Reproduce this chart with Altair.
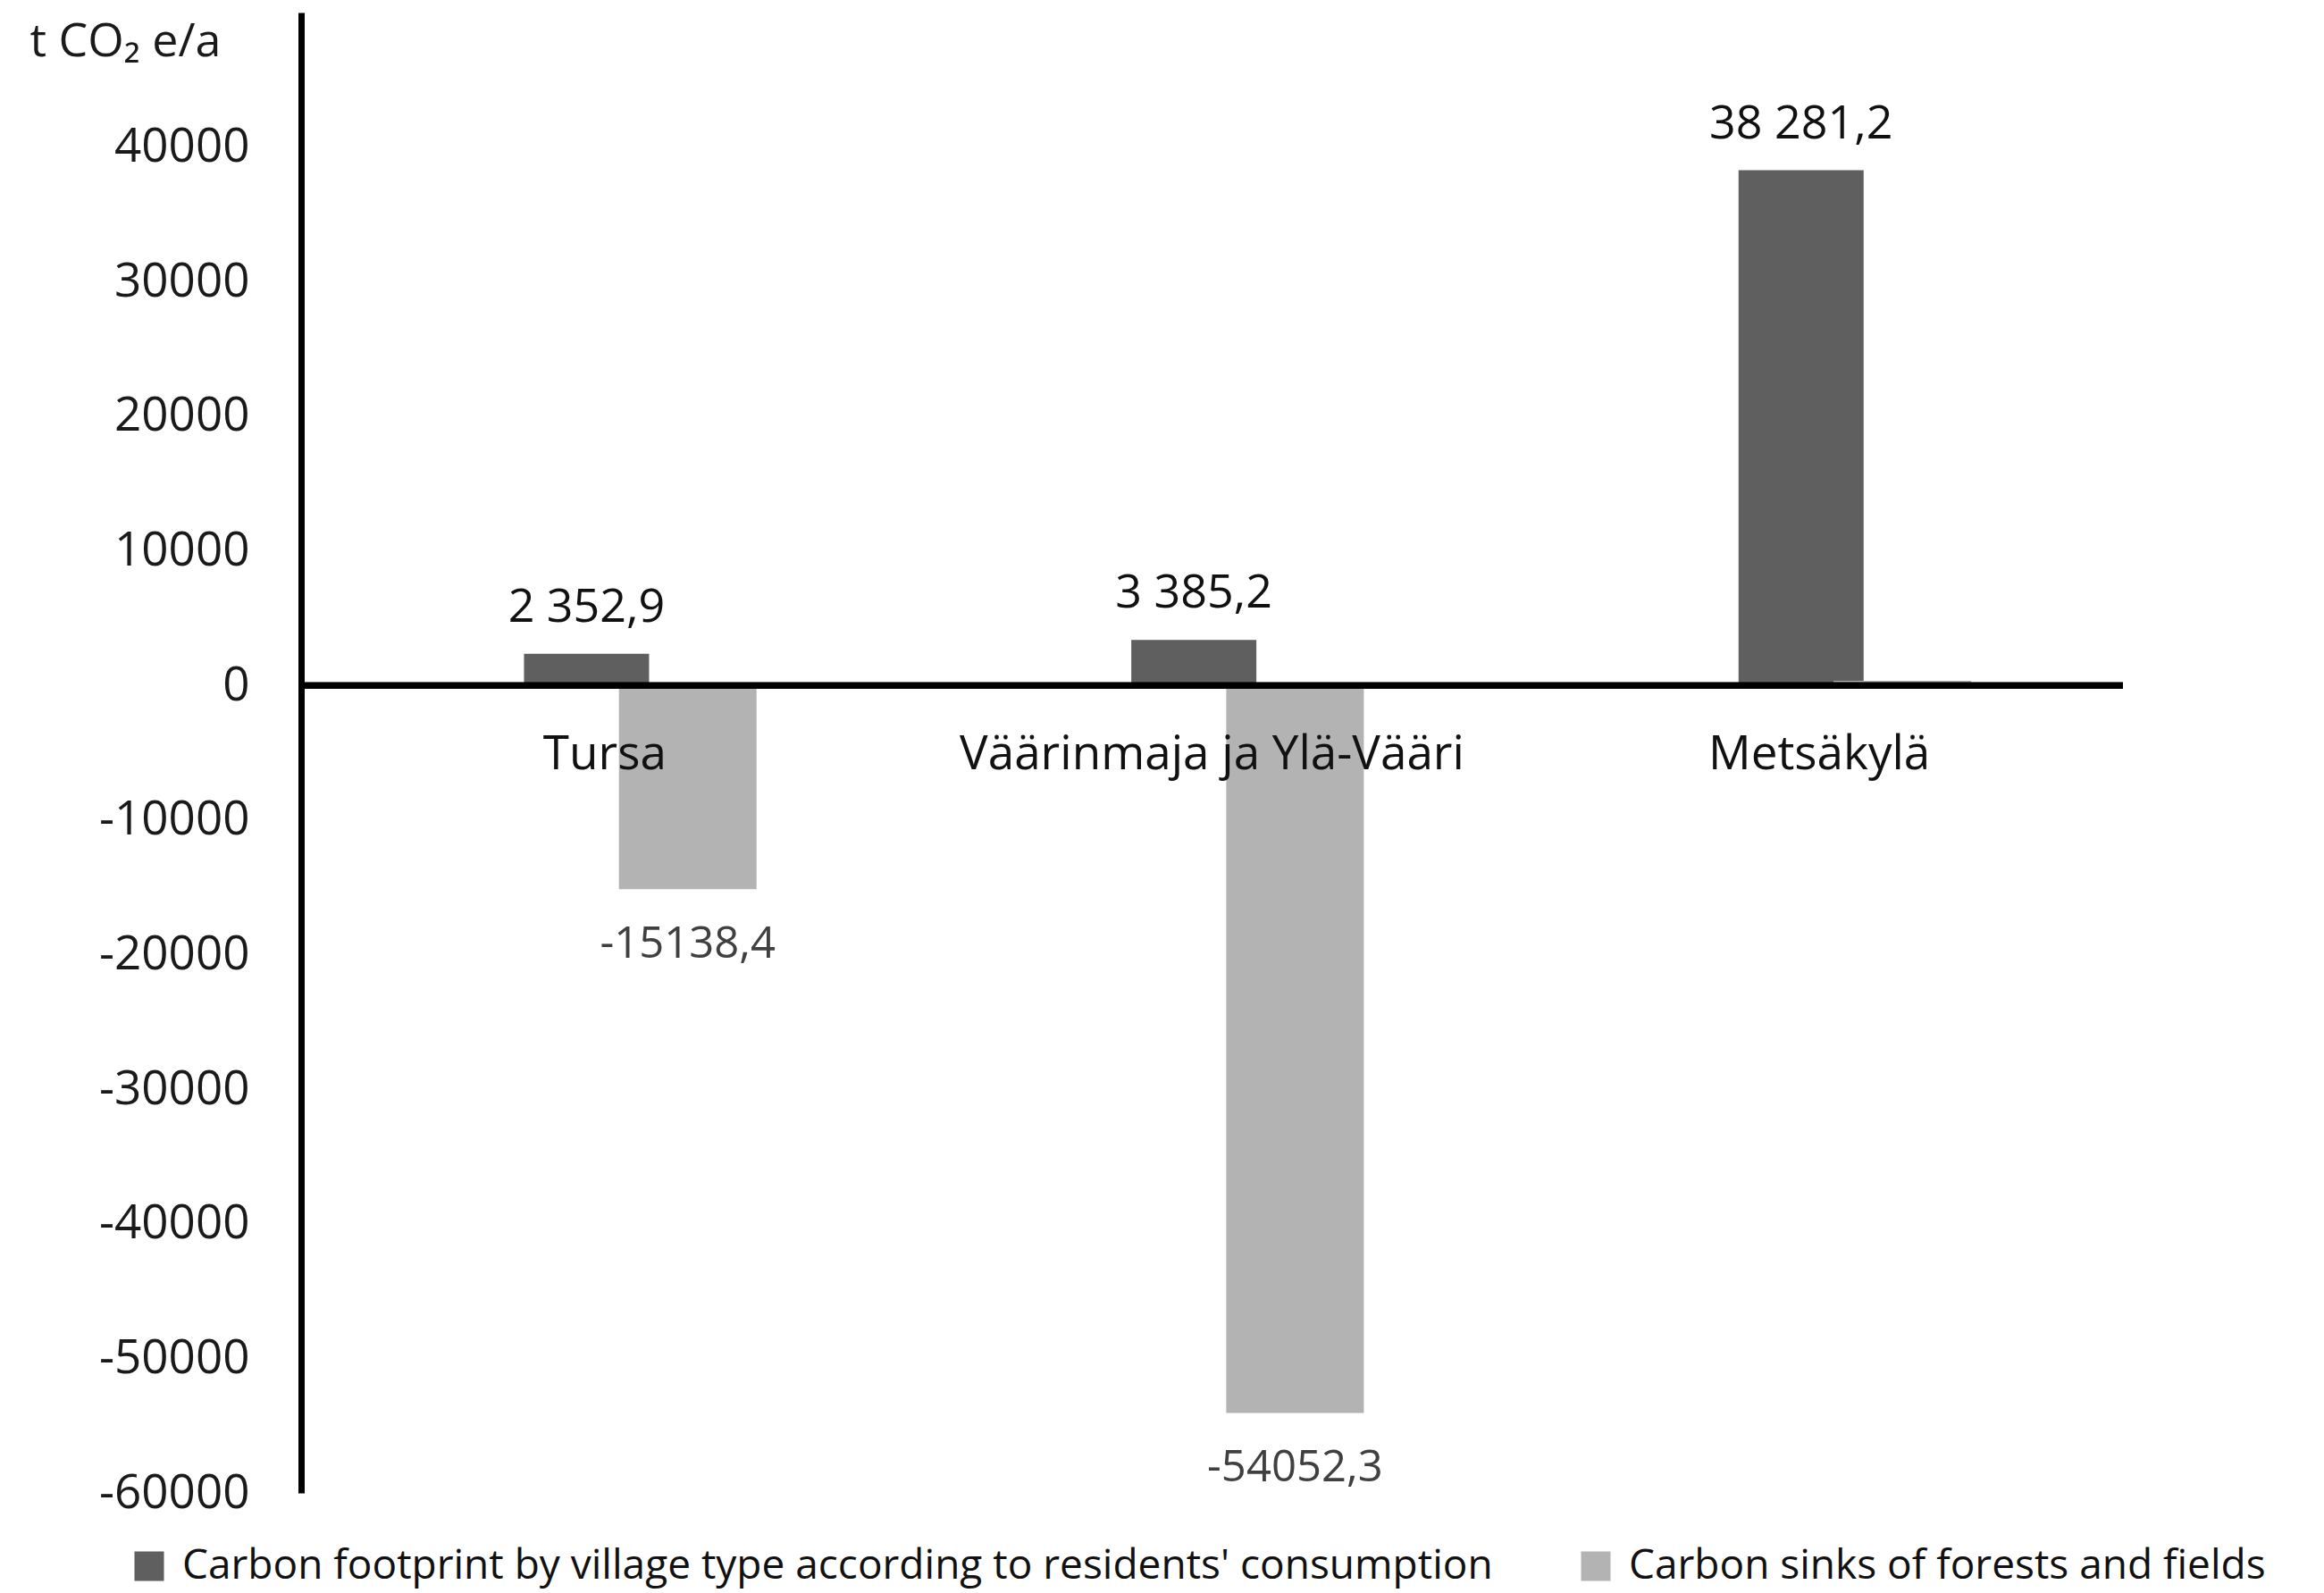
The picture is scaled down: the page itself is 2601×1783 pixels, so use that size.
import altair as alt
import pandas as pd

villages = ["Tursa", "Väärinmaja ja Ylä-Vääri", "Metsäkylä"]
series_names = [
    "Carbon footprint by village type according to residents' consumption",
    "Carbon sinks of forests and fields",
]
footprint = [2352.9, 3385.2, 38281.2]
sinks = [-15138.4, -54052.3, 350.0]
footprint_labels = ["2 352,9", "3 385,2", "38 281,2"]
sink_labels = ["-15138,4", "-54052,3", ""]
y_ticks = [40000, 30000, 20000, 10000, 0, -10000, -20000, -30000, -40000, -50000, -60000]
colors = ["#5f5f5f", "#b3b3b3"]

rows = []
for i, v in enumerate(villages):
    rows.append(dict(village=v, series=series_names[0], value=footprint[i], label=footprint_labels[i]))
    rows.append(dict(village=v, series=series_names[1], value=sinks[i], label=sink_labels[i]))
df = pd.DataFrame(rows)
cats = pd.DataFrame({"village": villages})

FONT = "Open Sans"

x = alt.X("village:N", scale=alt.Scale(domain=villages, paddingInner=0, paddingOuter=0), axis=None)
xo = alt.XOffset("series:N", scale=alt.Scale(domain=["_pad_a"] + series_names + ["_pad_b"],
                                              paddingInner=0, paddingOuter=1, align=0.66))
y = alt.Y(
    "value:Q",
    scale=alt.Scale(domain=[-60000, 50000], nice=False, zero=False),
    axis=alt.Axis(
        values=y_ticks, labelExpr="'' + datum.value", grid=False, ticks=False,
        domainColor="black", domainWidth=7, labelPadding=58, labelFontSize=53,
        labelFont=FONT, labelColor="#1a1a1a",
        title="t CO₂ e/a", titleAngle=0, titleAlign="left", titleBaseline="middle",
        titleX=-304, titleY=32, titleFontSize=52, titleFontWeight="normal",
        titleFont=FONT, titleColor="#1a1a1a",
    ),
)
color = alt.Color(
    "series:N",
    scale=alt.Scale(domain=series_names, range=colors),
    legend=alt.Legend(
        orient="none", legendX=-193, legendY=1716, direction="horizontal", title=None,
        symbolType="square", symbolSize=1089, symbolStrokeWidth=0, labelFontSize=46,
        labelFont=FONT, labelColor="#111111", columnPadding=92, labelOffset=14, labelLimit=3000,
    ),
)

base = alt.Chart(df)
dark = base.transform_filter(alt.datum.series == series_names[0]).mark_bar(width=140).encode(
    x=x, xOffset=xo, y=y, color=color)
light = base.transform_filter(alt.datum.series == series_names[1]).mark_bar(width=154).encode(
    x=x, xOffset=xo, y=y, color=color)
zero = alt.Chart(cats).mark_rule(color="black", strokeWidth=7).encode(y=alt.datum(0))
pos_lab = base.transform_filter((alt.datum.value > 0) & (alt.datum.label != "")).mark_text(
    baseline="bottom", dy=-25, fontSize=52, font=FONT, color="#111111").encode(
    x=x, xOffset=xo, y=alt.Y("value:Q"), text="label:N")
neg_lab = base.transform_filter((alt.datum.value < 0) & (alt.datum.label != "")).mark_text(
    baseline="top", dy=38, fontSize=49, font=FONT, color="#404040").encode(
    x=x, xOffset=xo, y=alt.Y("value:Q"), text="label:N")
cat_lab = alt.Chart(cats).mark_text(baseline="middle", dy=78, fontSize=53, font=FONT, color="#111111").encode(
    x=x, y=alt.datum(0), text="village:N")

chart = alt.layer(dark, light, zero, pos_lab, neg_lab, cat_lab).properties(
    width=2039, height=1657,
    autosize=alt.AutoSizeParams(type="none"),
    padding={"left": 329, "top": 6, "right": 217, "bottom": 110},
).configure_view(stroke=None)

chart.save("out.html", embed_options={"renderer": "svg", "actions": False})
